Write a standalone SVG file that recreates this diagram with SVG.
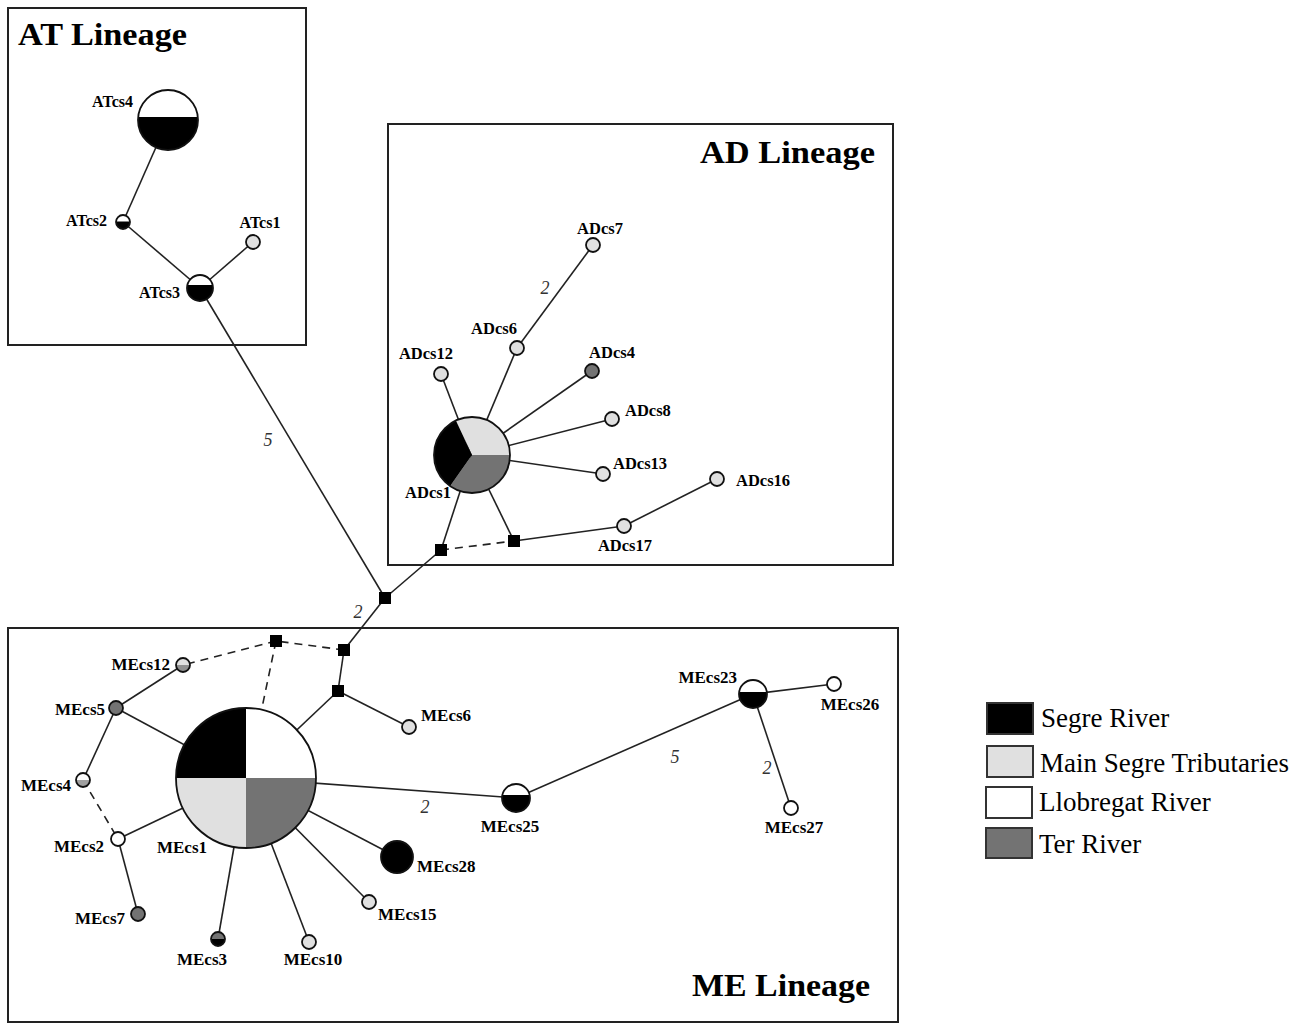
<svg xmlns="http://www.w3.org/2000/svg" width="1306" height="1026" viewBox="0 0 1306 1026">
<style>
.frame{fill:none;stroke:#222;stroke-width:2}
.title{font-family:"Liberation Serif","Times New Roman",serif;font-weight:bold;font-size:32px;fill:#000}
.lbl{font-family:"Liberation Serif","Times New Roman",serif;font-weight:bold;font-size:16px;fill:#000}
.lbd{font-family:"Liberation Serif","Times New Roman",serif;font-weight:bold;font-size:16.5px;fill:#000}
.lbm{font-family:"Liberation Serif","Times New Roman",serif;font-weight:bold;font-size:17px;fill:#000}
.num{font-family:"Liberation Serif","Times New Roman",serif;font-style:italic;font-size:18px;fill:#333}
.leg{font-family:"Liberation Serif","Times New Roman",serif;font-size:27px;fill:#000}
.edge{stroke:#222;stroke-width:1.6;fill:none}
.dash{stroke:#222;stroke-width:1.6;fill:none;stroke-dasharray:8 6}
.ring{fill:none;stroke:#111;stroke-width:1.8}
.blk{fill:#000}
.lgt{fill:#e0e0e0}
.wht{fill:#fff}
.ter{fill:#737373}
.sq{fill:#000}
.ls{stroke:#333;stroke-width:2}
</style>

<g id="frames">
<rect class="frame" x="8" y="8" width="298" height="337"/>
<rect class="frame" x="388" y="124" width="505" height="441"/>
<rect class="frame" x="8" y="628" width="890" height="394"/>
<text class="title" x="18" y="45" textLength="169" lengthAdjust="spacingAndGlyphs">AT Lineage</text>
<text class="title" x="700" y="163" textLength="175" lengthAdjust="spacingAndGlyphs">AD Lineage</text>
<text class="title" x="692" y="996" textLength="178" lengthAdjust="spacingAndGlyphs">ME Lineage</text>
</g>

<g id="connectors">
<line class="edge" x1="168" y1="120" x2="123" y2="222"/>
<line class="edge" x1="123" y1="222" x2="200" y2="288"/>
<line class="edge" x1="200" y1="288" x2="253" y2="242"/>
<line class="edge" x1="200" y1="288" x2="385" y2="598"/>
<line class="edge" x1="472" y1="455" x2="441" y2="374"/>
<line class="edge" x1="472" y1="455" x2="517" y2="348"/>
<line class="edge" x1="517" y1="348" x2="593" y2="245"/>
<line class="edge" x1="472" y1="455" x2="592" y2="371"/>
<line class="edge" x1="472" y1="455" x2="612" y2="419"/>
<line class="edge" x1="472" y1="455" x2="603" y2="474"/>
<line class="edge" x1="472" y1="455" x2="441" y2="550"/>
<line class="edge" x1="472" y1="455" x2="514" y2="541"/>
<line class="dash" x1="441" y1="550" x2="514" y2="541"/>
<line class="edge" x1="514" y1="541" x2="624" y2="526"/>
<line class="edge" x1="624" y1="526" x2="717" y2="479"/>
<line class="edge" x1="441" y1="550" x2="385" y2="598"/>
<line class="edge" x1="385" y1="598" x2="344" y2="650"/>
<line class="dash" x1="344" y1="650" x2="276" y2="641"/>
<line class="dash" x1="276" y1="641" x2="183" y2="665"/>
<line class="dash" x1="276" y1="641" x2="259" y2="722"/>
<line class="edge" x1="344" y1="650" x2="338" y2="691"/>
<line class="edge" x1="338" y1="691" x2="246" y2="778"/>
<line class="edge" x1="338" y1="691" x2="409" y2="727"/>
<line class="edge" x1="183" y1="665" x2="116" y2="708"/>
<line class="edge" x1="116" y1="708" x2="246" y2="778"/>
<line class="edge" x1="116" y1="708" x2="83" y2="780"/>
<line class="dash" x1="83" y1="780" x2="118" y2="839"/>
<line class="edge" x1="118" y1="839" x2="246" y2="778"/>
<line class="edge" x1="118" y1="839" x2="138" y2="914"/>
<line class="edge" x1="246" y1="778" x2="218" y2="939"/>
<line class="edge" x1="246" y1="778" x2="309" y2="942"/>
<line class="edge" x1="246" y1="778" x2="369" y2="902"/>
<line class="edge" x1="246" y1="778" x2="397" y2="857"/>
<line class="edge" x1="246" y1="778" x2="516" y2="798"/>
<line class="edge" x1="516" y1="798" x2="753" y2="694"/>
<line class="edge" x1="753" y1="694" x2="834" y2="684"/>
<line class="edge" x1="753" y1="694" x2="791" y2="808"/>
<text class="num" x="268" y="446" text-anchor="middle">5</text>
<text class="num" x="545" y="294" text-anchor="middle">2</text>
<text class="num" x="358" y="618" text-anchor="middle">2</text>
<text class="num" x="425" y="813" text-anchor="middle">2</text>
<text class="num" x="675" y="763" text-anchor="middle">5</text>
<text class="num" x="767" y="774" text-anchor="middle">2</text>
</g>

<g id="median-vectors">
<rect id="mv1" class="sq" x="379" y="592" width="12" height="12"/>
<rect id="mv2" class="sq" x="435" y="544" width="12" height="12"/>
<rect id="mv3" class="sq" x="508" y="535" width="12" height="12"/>
<rect id="mv4" class="sq" x="338" y="644" width="12" height="12"/>
<rect id="mv5" class="sq" x="270" y="635" width="12" height="12"/>
<rect id="mv6" class="sq" x="332" y="685" width="12" height="12"/>
</g>

<g id="ATcs4">
<circle class="blk" cx="168" cy="120" r="30"/>
<path class="wht" d="M138.15,117 A30,30 0 0 1 197.85,117 Z"/>
<circle class="ring" cx="168" cy="120" r="30"/>
<text class="lbl" x="133" y="107" text-anchor="end">ATcs4</text>
</g>
<g id="ATcs2">
<circle class="blk" cx="123" cy="222" r="7"/>
<path class="wht" d="M116,221.5 A7,7 0 0 1 130,221.5 Z"/>
<circle class="ring" cx="123" cy="222" r="7"/>
<text class="lbl" x="107" y="226" text-anchor="end">ATcs2</text>
</g>
<g id="ATcs1">
<circle class="lgt" cx="253" cy="242" r="7"/>
<circle class="ring" cx="253" cy="242" r="7"/>
<text class="lbl" x="260" y="228" text-anchor="middle">ATcs1</text>
</g>
<g id="ATcs3">
<circle class="blk" cx="200" cy="288" r="13"/>
<path class="wht" d="M187.35,285 A13,13 0 0 1 212.65,285 Z"/>
<circle class="ring" cx="200" cy="288" r="13"/>
<text class="lbl" x="180" y="298" text-anchor="end">ATcs3</text>
</g>

<g id="ADcs1">
<path class="lgt" d="M472,455 L455.9,420.6 A38,38 0 0 1 510,455 Z"/>
<path class="ter" d="M472,455 L510,455 A38,38 0 0 1 450.2,486.1 Z"/>
<path class="blk" d="M472,455 L450.2,486.1 A38,38 0 0 1 455.9,420.6 Z"/>
<circle class="ring" cx="472" cy="455" r="38"/>
<text class="lbd" x="428" y="498" text-anchor="middle">ADcs1</text>
</g>
<g id="ADcs7">
<circle class="lgt" cx="593" cy="245" r="7"/>
<circle class="ring" cx="593" cy="245" r="7"/>
<text class="lbd" x="600" y="234" text-anchor="middle">ADcs7</text>
</g>
<g id="ADcs6">
<circle class="lgt" cx="517" cy="348" r="7"/>
<circle class="ring" cx="517" cy="348" r="7"/>
<text class="lbd" x="494" y="334" text-anchor="middle">ADcs6</text>
</g>
<g id="ADcs12">
<circle class="lgt" cx="441" cy="374" r="7"/>
<circle class="ring" cx="441" cy="374" r="7"/>
<text class="lbd" x="426" y="359" text-anchor="middle">ADcs12</text>
</g>
<g id="ADcs4">
<circle class="ter" cx="592" cy="371" r="7"/>
<circle class="ring" cx="592" cy="371" r="7"/>
<text class="lbd" x="612" y="358" text-anchor="middle">ADcs4</text>
</g>
<g id="ADcs8">
<circle class="lgt" cx="612" cy="419" r="7"/>
<circle class="ring" cx="612" cy="419" r="7"/>
<text class="lbd" x="625" y="416">ADcs8</text>
</g>
<g id="ADcs13">
<circle class="lgt" cx="603" cy="474" r="7"/>
<circle class="ring" cx="603" cy="474" r="7"/>
<text class="lbd" x="613" y="469">ADcs13</text>
</g>
<g id="ADcs16">
<circle class="lgt" cx="717" cy="479" r="7"/>
<circle class="ring" cx="717" cy="479" r="7"/>
<text class="lbd" x="736" y="486">ADcs16</text>
</g>
<g id="ADcs17">
<circle class="lgt" cx="624" cy="526" r="7"/>
<circle class="ring" cx="624" cy="526" r="7"/>
<text class="lbd" x="625" y="551" text-anchor="middle">ADcs17</text>
</g>

<g id="MEcs1">
<path class="blk" d="M246,778 L176,778 A70,70 0 0 1 246,708 Z"/>
<path class="wht" d="M246,778 L246,708 A70,70 0 0 1 316,778 Z"/>
<path class="ter" d="M246,778 L316,778 A70,70 0 0 1 246,848 Z"/>
<path class="lgt" d="M246,778 L246,848 A70,70 0 0 1 176,778 Z"/>
<circle class="ring" cx="246" cy="778" r="70"/>
<text class="lbm" x="182" y="853" text-anchor="middle">MEcs1</text>
</g>
<g id="MEcs12">
<circle fill="#909090" cx="183" cy="665" r="7"/>
<path class="lgt" d="M176,665 A7,7 0 0 1 190,665 Z"/>
<circle class="ring" cx="183" cy="665" r="7"/>
<text class="lbm" x="170" y="670" text-anchor="end">MEcs12</text>
</g>
<g id="MEcs5">
<circle class="ter" cx="116" cy="708" r="7"/>
<circle class="ring" cx="116" cy="708" r="7"/>
<text class="lbm" x="105" y="715" text-anchor="end">MEcs5</text>
</g>
<g id="MEcs4">
<circle fill="#a0a0a0" cx="83" cy="780" r="7"/>
<path class="wht" d="M76,780 A7,7 0 0 1 90,780 Z"/>
<circle class="ring" cx="83" cy="780" r="7"/>
<text class="lbm" x="71" y="791" text-anchor="end">MEcs4</text>
</g>
<g id="MEcs2">
<circle class="wht" cx="118" cy="839" r="7"/>
<circle class="ring" cx="118" cy="839" r="7"/>
<text class="lbm" x="104" y="852" text-anchor="end">MEcs2</text>
</g>
<g id="MEcs7">
<circle class="ter" cx="138" cy="914" r="7"/>
<circle class="ring" cx="138" cy="914" r="7"/>
<text class="lbm" x="125" y="924" text-anchor="end">MEcs7</text>
</g>
<g id="MEcs3">
<circle class="blk" cx="218" cy="939" r="7"/>
<path class="ter" d="M211,939 A7,7 0 0 1 225,939 Z"/>
<circle class="ring" cx="218" cy="939" r="7"/>
<text class="lbm" x="202" y="965" text-anchor="middle">MEcs3</text>
</g>
<g id="MEcs10">
<circle class="lgt" cx="309" cy="942" r="7"/>
<circle class="ring" cx="309" cy="942" r="7"/>
<text class="lbm" x="313" y="965" text-anchor="middle">MEcs10</text>
</g>
<g id="MEcs15">
<circle class="lgt" cx="369" cy="902" r="7"/>
<circle class="ring" cx="369" cy="902" r="7"/>
<text class="lbm" x="378" y="920">MEcs15</text>
</g>
<g id="MEcs28">
<circle class="blk" cx="397" cy="857" r="16"/>
<circle class="ring" cx="397" cy="857" r="16"/>
<text class="lbm" x="417" y="872">MEcs28</text>
</g>
<g id="MEcs6">
<circle class="lgt" cx="409" cy="727" r="7"/>
<circle class="ring" cx="409" cy="727" r="7"/>
<text class="lbm" x="421" y="721">MEcs6</text>
</g>
<g id="MEcs25">
<circle class="blk" cx="516" cy="798" r="14"/>
<path class="wht" d="M502.3,795 A14,14 0 0 1 529.7,795 Z"/>
<circle class="ring" cx="516" cy="798" r="14"/>
<text class="lbm" x="510" y="832" text-anchor="middle">MEcs25</text>
</g>
<g id="MEcs23">
<circle class="blk" cx="753" cy="694" r="14"/>
<path class="wht" d="M739.1,692 A14,14 0 0 1 766.9,692 Z"/>
<circle class="ring" cx="753" cy="694" r="14"/>
<text class="lbm" x="737" y="683" text-anchor="end">MEcs23</text>
</g>
<g id="MEcs26">
<circle class="wht" cx="834" cy="684" r="7"/>
<circle class="ring" cx="834" cy="684" r="7"/>
<text class="lbm" x="850" y="710" text-anchor="middle">MEcs26</text>
</g>
<g id="MEcs27">
<circle class="wht" cx="791" cy="808" r="7"/>
<circle class="ring" cx="791" cy="808" r="7"/>
<text class="lbm" x="794" y="833" text-anchor="middle">MEcs27</text>
</g>

<g id="legend">
<rect class="blk ls" x="987" y="703" width="46" height="31"/>
<text class="leg" x="1041" y="727">Segre River</text>
<rect class="lgt ls" x="987" y="746" width="46" height="31"/>
<text class="leg" x="1040" y="772">Main Segre Tributaries</text>
<rect class="wht ls" x="986" y="787" width="46" height="31"/>
<text class="leg" x="1039" y="811">Llobregat River</text>
<rect class="ter ls" x="986" y="828" width="46" height="30"/>
<text class="leg" x="1039" y="853">Ter River</text>
</g>
</svg>
